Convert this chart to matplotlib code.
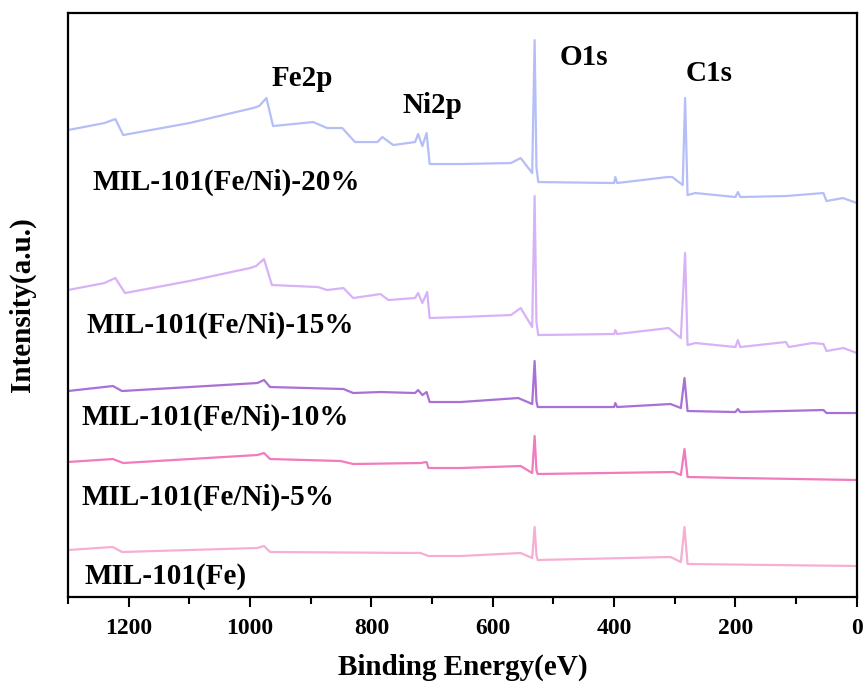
import matplotlib
matplotlib.use("Agg")
import matplotlib.pyplot as plt
from matplotlib.ticker import MultipleLocator

plt.rcParams["font.family"] = ["Liberation Serif", "DejaVu Serif"]
plt.rcParams["font.weight"] = "bold"

# XPS survey spectra, binding energy (eV) vs stacked intensity (a.u.)
be_20 = [1300, 1240, 1222, 1209, 1100, 995, 985, 973, 962, 896, 873, 848, 827, 790, 782,
         764, 728, 723, 716, 709, 704, 653, 570, 554, 535, 531, 528, 525, 400, 398, 395,
         312, 304, 287, 283, 279, 266, 200, 196, 192, 117, 55, 50, 23, 0]
int_20 = [467, 474, 478, 462, 474, 489, 491, 499, 471, 475, 469, 469, 455, 455, 460,
          452, 455, 463, 451, 464, 433, 433, 434, 439, 424, 557, 430, 415, 414, 420, 414,
          420, 420, 412, 499, 402, 404, 400, 405, 400, 401, 404, 396, 399, 394]

be_15 = [1300, 1240, 1222, 1206, 1100, 1000, 990, 977, 964, 888, 873, 846, 830, 785, 772,
         728, 723, 716, 708, 704, 653, 570, 554, 535, 531, 528, 525, 400, 398, 395, 310,
         290, 283, 279, 266, 200, 196, 192, 117, 112, 73, 55, 50, 22, 0]
int_15 = [307, 314, 319, 304, 316, 329, 331, 338, 312, 310, 307, 309, 299, 303, 297,
          299, 304, 294, 305, 279, 280, 282, 289, 270, 401, 275, 262, 263, 267, 263, 269,
          259, 344, 252, 254, 250, 257, 250, 255, 250, 254, 253, 246, 249, 244]

be_10 = [1300, 1226, 1211, 988, 977, 967, 846, 830, 785, 728, 723, 716, 709, 704, 653,
         558, 535, 531, 528, 526, 400, 398, 395, 307, 290, 284, 279, 200, 196, 192, 55,
         50, 0]
int_10 = [206, 211, 206, 214, 217, 210, 208, 204, 205, 204, 207, 202, 205, 195, 195,
          199, 193, 236, 196, 190, 190, 194, 190, 193, 189, 219, 186, 185, 188, 185, 187,
          184, 184]

be_5 = [1300, 1226, 1209, 988, 977, 967, 851, 830, 719, 709, 706, 653, 554, 535, 531,
        528, 526, 302, 290, 284, 279, 196, 0]
int_5 = [135, 138, 134, 142, 144, 138, 136, 133, 134, 135, 129, 129, 131, 124, 161,
         127, 123, 125, 122, 148, 120, 119, 117]

be_fe = [1300, 1226, 1211, 988, 977, 967, 719, 706, 653, 554, 535, 531, 528, 526, 307,
         290, 284, 279, 0]
int_fe = [47, 50, 45, 49, 51, 45, 44, 41, 41, 44, 39, 70, 42, 37, 40,
          35, 70, 33, 31]

samples = ["MIL-101(Fe/Ni)-20%", "MIL-101(Fe/Ni)-15%", "MIL-101(Fe/Ni)-10%",
           "MIL-101(Fe/Ni)-5%", "MIL-101(Fe)"]
colors = ["#b5bef7", "#d8b2f6", "#a970d6", "#f07bbd", "#f6aed3"]
series = [(be_20, int_20), (be_15, int_15), (be_10, int_10), (be_5, int_5), (be_fe, int_fe)]

# sample name positions (BE, intensity)
name_pos = [(1260, 415), (1269, 272), (1277, 180), (1277, 100), (1272, 21)]

peaks = ["Fe2p", "Ni2p", "O1s", "C1s"]
peak_pos = [(914, 519), (700, 492), (450, 540), (244, 524)]

fig = plt.figure(figsize=(8.64, 6.87), dpi=100)
ax = fig.add_axes([0.0787, 0.131, 0.913, 0.850])

for (x, y), c in zip(series, colors):
    ax.plot(x, y, color=c, lw=1.6, solid_joinstyle="round")

for name, (x, y) in zip(samples, name_pos):
    ax.text(x, y, name, fontsize=21, fontweight="bold", ha="left", va="center")

for name, (x, y) in zip(peaks, peak_pos):
    ax.text(x, y, name, fontsize=21, fontweight="bold", ha="center", va="center")

ax.set_xlim(1300, 0)
ax.set_ylim(0, 584)
ax.set_yticks([])
ax.xaxis.set_major_locator(MultipleLocator(200))
ax.xaxis.set_minor_locator(MultipleLocator(100))
ax.tick_params(axis="x", which="major", direction="out", length=7, width=1.5,
               labelsize=17, pad=8)
ax.tick_params(axis="x", which="minor", direction="out", length=5, width=1.5)
for lbl in ax.get_xticklabels():
    lbl.set_fontweight("bold")
for sp in ax.spines.values():
    sp.set_linewidth(1.6)

ax.set_xlabel("Binding Energy(eV)", fontsize=21, fontweight="bold", labelpad=11)
ax.set_ylabel("Intensity(a.u.)", fontsize=21, fontweight="bold", labelpad=23)

fig.savefig("out.png", dpi=100)
